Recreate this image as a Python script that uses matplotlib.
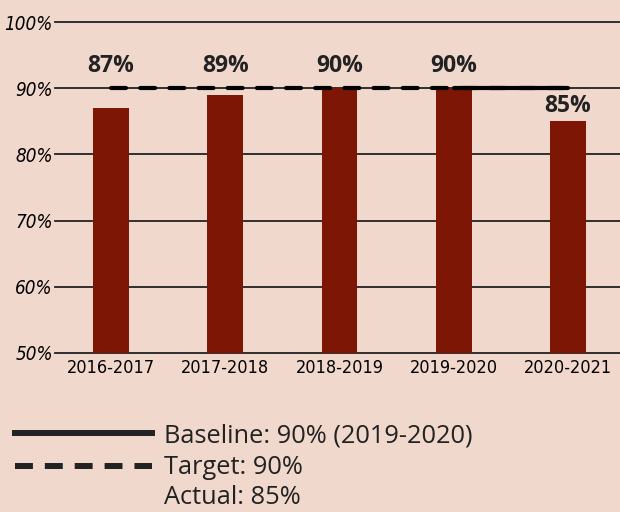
import matplotlib.pyplot as plt
from matplotlib.lines import Line2D

years = ["2016-2017", "2017-2018", "2018-2019", "2019-2020", "2020-2021"]
actual = [87, 89, 90, 90, 85]
target = 90
baseline = 90
baseline_year = "2019-2020"
yticks = [50, 60, 70, 80, 90, 100]

bg = "#f1d8cd"
bar_color = "#7d1604"
ink = "#222222"
sans = ["Open Sans", "DejaVu Sans"]


def main():
    fig = plt.figure(figsize=(6.2, 5.12), dpi=100, facecolor=bg)
    ax = fig.add_axes([55 / 620, 1 - 353 / 512, 565 / 620, 331 / 512])
    ax.set_facecolor(bg)

    x = list(range(len(years)))
    ax.bar(x, actual, width=0.315, color=bar_color, zorder=2)

    # grid lines
    for t in yticks:
        ax.axhline(t, color=ink, lw=1.3, zorder=1, clip_on=False)

    # target (dashed) and baseline (solid)
    ax.plot([x[0], x[-1]], [target, target], color="black", lw=3,
            dashes=(3.6, 3.4), solid_capstyle="round", dash_capstyle="round", zorder=3)
    bi = years.index(baseline_year)
    ax.plot([x[bi], x[-1]], [baseline, baseline], color="black", lw=3,
            solid_capstyle="round", zorder=4)

    for xi, v in zip(x, actual):
        ly = 93.4 if v >= 87 else v + 2.3
        ax.text(xi, ly, f"{v}%", ha="center", va="center", fontsize=16.5,
                fontweight="bold", color=ink, family=sans, zorder=5)

    ax.set_xlim(-0.49, 4.455)
    ax.set_ylim(50, 100)
    ax.set_xticks(x)
    ax.set_xticklabels(years, family="DejaVu Sans", stretch="condensed",
                       fontsize=13, color="black")
    ax.set_yticks(yticks)
    ax.set_yticklabels([f"{t}%" for t in yticks], family="DejaVu Sans",
                       stretch="condensed", fontsize=13.5, style="italic", color="black")
    ax.tick_params(axis="both", length=0)
    ax.tick_params(axis="y", pad=1.5)
    ax.tick_params(axis="x", pad=4)
    for s in ax.spines.values():
        s.set_visible(False)

    # legend drawn by hand
    fx = lambda px: px / 620
    fy = lambda py: 1 - py / 512
    fig.add_artist(Line2D([fx(15), fx(152)], [fy(433), fy(433)], color=ink, lw=4.3))
    fig.add_artist(Line2D([fx(15), fx(152)], [fy(466), fy(466)], color=ink, lw=4.3,
                          dashes=(3.0, 2.0)))
    labels = [f"Baseline: {baseline}% ({baseline_year})",
              f"Target: {target}%",
              f"Actual: {actual[-1]}%"]
    for lab, py in zip(labels, [436, 467, 498]):
        fig.text(fx(164), fy(py), lab, ha="left", va="center", fontsize=18.3,
                 family=sans, color=ink)

    fig.savefig("out.png", dpi=100, facecolor=bg)


if __name__ == "__main__":
    main()
